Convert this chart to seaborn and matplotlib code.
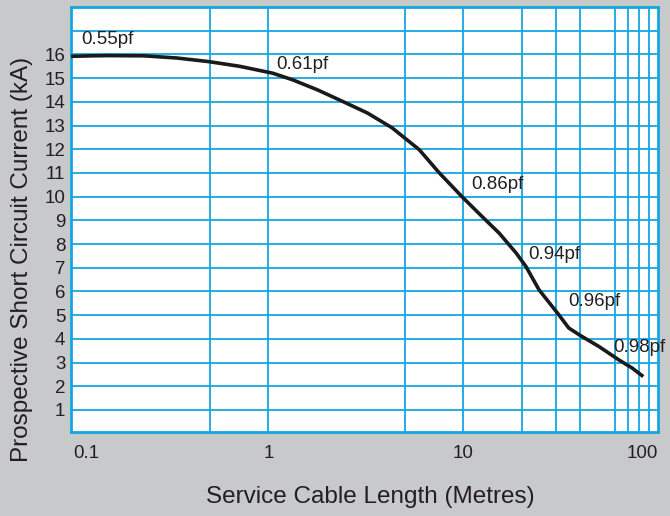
import matplotlib
matplotlib.use("Agg")
import matplotlib.pyplot as plt
import seaborn as sns
import pandas as pd

# Prospective short circuit current against service cable length
cable_length_m = [0.097, 0.125, 0.15, 0.23, 0.337, 0.49, 0.71, 1.05, 1.33, 1.78, 2.4,
                  3.22, 4.32, 5.95, 7.54, 9.88, 12.5, 15.3, 18.7, 21.0, 24.5,
                  31.0, 34.8, 39.4, 49.9, 63.0, 73.6, 84.0]
current_ka = [15.92, 15.94, 15.95, 15.94, 15.85, 15.70, 15.50, 15.21, 14.93, 14.51, 14.02,
              13.53, 12.9, 11.98, 11.0, 9.99, 9.16, 8.46, 7.62, 7.05, 6.07,
              5.01, 4.46, 4.17, 3.67, 3.11, 2.77, 2.41]

# Power-factor notes along the curve
pf_labels = ["0.55pf", "0.61pf", "0.86pf", "0.94pf", "0.96pf", "0.98pf"]
pf_x = [0.11, 1.10, 11.0, 21.5, 34.5, 58.8]
pf_y = [16.62, 15.56, 10.5, 7.54, 5.56, 3.62]

# Axis ticks and grid
x_tick_values = [0.1, 1, 10, 100]
x_tick_labels = ["0.1", "1", "10", "100"]
x_grid = [0.5, 1, 5, 10, 20, 30, 40, 60, 70, 80, 90]
y_tick_values = list(range(1, 17))
y_grid = list(range(1, 18))

BG = "#c8c9cb"
BLUE = "#14a6e2"
INK = "#231f20"

sns.set_theme(style="white")
plt.rcParams["font.family"] = ["Liberation Sans", "DejaVu Sans"]

fig = plt.figure(figsize=(6.70, 5.16), dpi=100, facecolor=BG)
ax = fig.add_axes([71 / 670, 1 - 432 / 516, 587 / 670, 425 / 516])
ax.set_facecolor("white")

df = pd.DataFrame({"length": cable_length_m, "current": current_ka})
sns.lineplot(data=df, x="length", y="current", ax=ax, color="#1a1a1a",
             linewidth=2.6, sort=False, estimator=None, zorder=5,
             solid_joinstyle="round", solid_capstyle="butt")

ax.set_xscale("log")
ax.set_xlim(0.097, 100)
ax.set_ylim(0.07, 18)

# Grid lines
for gx in x_grid:
    ax.axvline(gx, color=BLUE, linewidth=1.3, zorder=1)
for gy in y_grid:
    ax.axhline(gy, color=BLUE, linewidth=1.3, zorder=1)

for side in ax.spines.values():
    side.set_visible(True)
    side.set_color(BLUE)
    side.set_linewidth(2.0)

# Tick labels
ax.set_yticks(y_tick_values)
ax.set_yticklabels([str(v) for v in y_tick_values])
ax.set_xticks(x_tick_values)
ax.set_xticklabels(x_tick_labels)
ax.minorticks_off()
ax.tick_params(axis="both", length=0, labelsize=13.5, colors=INK)
ax.tick_params(axis="y", pad=4)
ax.tick_params(axis="x", pad=9)
xt = ax.get_xticklabels()
xt[0].set_horizontalalignment("left")
xt[-1].set_horizontalalignment("right")
ax.set_xlabel("")
ax.set_ylabel("")

for txt, x, y in zip(pf_labels, pf_x, pf_y):
    ax.text(x, y, txt, ha="left", va="center", fontsize=13.5, color=INK,
            zorder=6, clip_on=False)

fig.text(370 / 670, 1 - 497 / 516, "Service Cable Length (Metres)",
         ha="center", va="center", fontsize=17.5, color=INK)
fig.text(22 / 670, 1 - 259 / 516, "Prospective Short Circuit Current (kA)",
         ha="center", va="center", rotation=90, fontsize=17.5, color=INK)

fig.savefig("out.png", dpi=100, facecolor=BG)
